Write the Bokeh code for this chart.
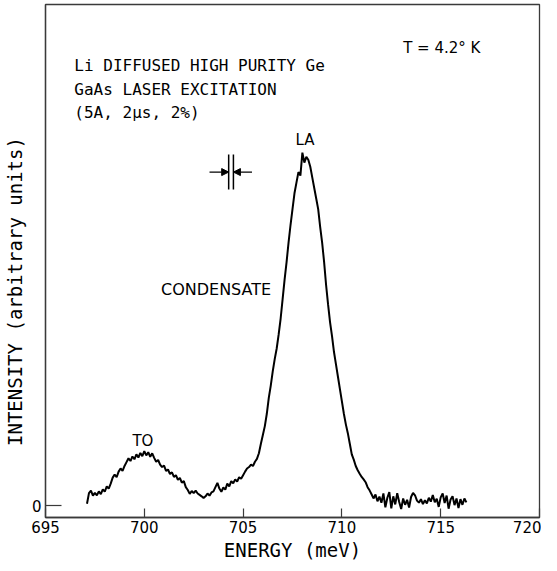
from bokeh.plotting import figure
from bokeh.models import Range1d, FixedTicker, Label, Arrow, NormalHead, ColumnDataSource
from bokeh.layouts import row
from bokeh.core.properties import value
from bokeh.embed import file_html
from bokeh.resources import INLINE
import numpy as np

# ---- data ----
energy_start = 697.1   # meV, first sample
energy_step = 0.1      # meV, sampling step
intensity = [
    0.5, 3.5, 4.2, 2.8, 3.6, 2.9, 4.0, 3.2, 4.6, 3.9,          # 697.1-698.0
    5.4, 4.8, 6.2, 7.9, 8.8, 8.0, 9.6, 10.5, 9.8, 11.2,        # 698.1-699.0
    12.3, 13.4, 12.6, 13.9, 13.1, 14.5, 13.6, 14.9, 14.0, 15.4,  # 699.1-700.0
    14.2, 15.1, 13.8, 14.8, 13.5, 12.4, 12.9, 11.6, 10.9, 11.3,  # 700.1-701.0
    9.8, 10.2, 8.9, 9.4, 8.1, 8.6, 7.3, 7.8, 6.5, 6.9,         # 701.1-702.0
    5.2, 4.4, 3.3, 4.1, 3.5, 4.2, 3.4, 3.0, 2.6, 2.1,          # 702.1-703.0
    2.6, 3.4, 2.8, 3.7, 4.0, 5.2, 6.4, 4.8, 3.9, 5.1,          # 703.1-704.0
    4.5, 6.2, 5.4, 6.9, 6.3, 7.4, 6.8, 8.0, 7.6, 8.6,          # 704.1-705.0
    9.6, 10.5, 10.9, 11.6, 11.2, 12.4, 13.2, 14.8, 17.5, 20.0,  # 705.1-706.0
    22.5, 26.0, 30.5, 34.0, 38.0, 41.5, 44.5, 48.5, 53.0, 58.5,  # 706.1-707.0
    64.0, 69.0, 74.5, 79.5, 84.0, 88.5, 91.5, 94.5, 93.5, 100.0,  # 707.1-708.0
    97.2, 98.8, 98.0, 96.0, 93.0, 90.0, 87.0, 84.0, 79.0, 74.5,  # 708.1-709.0
    69.0, 62.5, 57.0, 52.0, 48.0, 43.5, 40.0, 36.5, 33.0, 29.5,  # 709.1-710.0
    26.0, 23.0, 20.5, 17.5, 14.5, 13.0, 11.2, 10.0, 9.0, 8.1,   # 710.1-711.0
    7.4, 6.6, 5.2, 4.3, 3.2, 2.0, 3.1, 1.2, 2.5, 0.8,          # 711.1-712.0
    3.4, -0.5, 2.2, 3.8, -0.8, 2.6, 0.3, 3.5, 1.0, -1.0,       # 712.1-713.0
    2.0, 0.2, 1.6, -0.6, 2.4, 3.6, 2.9, 1.4, 0.8, 1.8,         # 713.1-714.0
    0.4, 1.5, 0.6, 2.2, 1.1, 3.0, 0.9, 1.9, -0.4, 2.3,         # 714.1-715.0
    3.4, 0.7, 2.8, -0.9, 1.7, 2.6, 0.1, 2.0, -0.7, 1.8,        # 715.1-716.0
    0.2, 2.0, 0.9,                                             # 716.1-716.3
]
energy = np.round(energy_start + energy_step * np.arange(len(intensity)), 2)

x_ticks = [695, 700, 705, 710, 715, 720]
y_ticks = [0]

FONT = "DejaVu Sans"
MONO = "DejaVu Sans Mono"   # evenly spaced, like the stencil lettering of the original
FRAME = "#3a3a3a"
H = 563

# ---- narrow strip holding the y-axis title (placed below the frame centre, as in the original)
ytitle = figure(width=28, height=H, output_backend="svg", toolbar_location=None,
                x_range=Range1d(0, 28), y_range=Range1d(0, H), min_border=0)
ytitle.axis.visible = False
ytitle.grid.visible = False
ytitle.outline_line_color = None
ytitle.text(x=[14], y=[248], text=["INTENSITY (arbitrary units)"], angle=np.pi / 2,
            text_align="center", text_baseline="middle", text_color="black",
            text_font=value(MONO), text_font_size=value("19px"))

# ---- main plot
src = ColumnDataSource(dict(energy=energy, intensity=intensity))

p = figure(width=513, height=H, output_backend="svg", toolbar_location=None,
           x_range=Range1d(695, 720), y_range=Range1d(-3.4, 142),
           min_border_left=14, min_border_right=2, min_border_top=4, min_border_bottom=46)

p.line("energy", "intensity", source=src, line_color="black", line_width=2)

p.grid.visible = False
p.outline_line_color = FRAME
p.outline_line_width = 1.3

p.xaxis.ticker = FixedTicker(ticks=x_ticks)
p.yaxis.ticker = FixedTicker(ticks=y_ticks)
for ax in (p.xaxis, p.yaxis):
    ax.axis_line_color = FRAME
    ax.axis_line_width = 1.3
    ax.major_tick_line_color = FRAME
    ax.major_tick_line_width = 1.2
    ax.minor_tick_line_color = None
    ax.major_tick_out = 0
    ax.major_label_text_font = FONT
    ax.major_label_text_font_size = "15px"
    ax.major_label_text_color = "black"
    ax.axis_label_text_font = MONO
    ax.axis_label_text_font_style = "normal"
    ax.axis_label_text_color = "black"

p.xaxis.major_tick_in = 9
p.xaxis.major_label_standoff = 3
p.xaxis.axis_label = "ENERGY (meV)"
p.xaxis.axis_label_text_font_size = "19px"
p.xaxis.axis_label_standoff = 3

p.yaxis.major_tick_in = 16
p.yaxis.major_label_standoff = 4

def add_label(x, y, text, size="16px", align="left", font=FONT):
    p.add_layout(Label(x=x, y=y, text=text, text_font=font, text_font_size=size,
                       text_color="black", text_align=align, text_baseline="middle"))

add_label(713.1, 129.7, "T = 4.2° K", size="15px")
add_label(696.46, 124.6, "Li DIFFUSED HIGH PURITY Ge", font=MONO)
add_label(696.46, 118.0, "GaAs LASER EXCITATION", font=MONO)
add_label(696.46, 111.4, "(5A, 2μs, 2%)", font=MONO)
add_label(708.13, 103.7, "LA", size="15px", align="center")
add_label(706.42, 61.2, "CONDENSATE", size="16px", align="right")
add_label(699.93, 18.4, "TO", size="15px", align="center")

# resolution marker
res_left, res_right = 704.27, 704.51
res_bottom, res_top = 89.6, 99.5
res_arrow_y = 94.5
p.segment(x0=[res_left, res_right], y0=[res_bottom, res_bottom],
          x1=[res_left, res_right], y1=[res_top, res_top], line_color="black", line_width=1.5)
p.add_layout(Arrow(x_start=703.30, y_start=res_arrow_y, x_end=res_left, y_end=res_arrow_y,
                   line_color="black", line_width=1.3,
                   end=NormalHead(size=7, fill_color="black", line_color="black")))
p.add_layout(Arrow(x_start=705.45, y_start=res_arrow_y, x_end=res_right, y_end=res_arrow_y,
                   line_color="black", line_width=1.3,
                   end=NormalHead(size=7, fill_color="black", line_color="black")))

layout = row(ytitle, p, spacing=0)
open("out.html", "w").write(file_html(layout, INLINE))
